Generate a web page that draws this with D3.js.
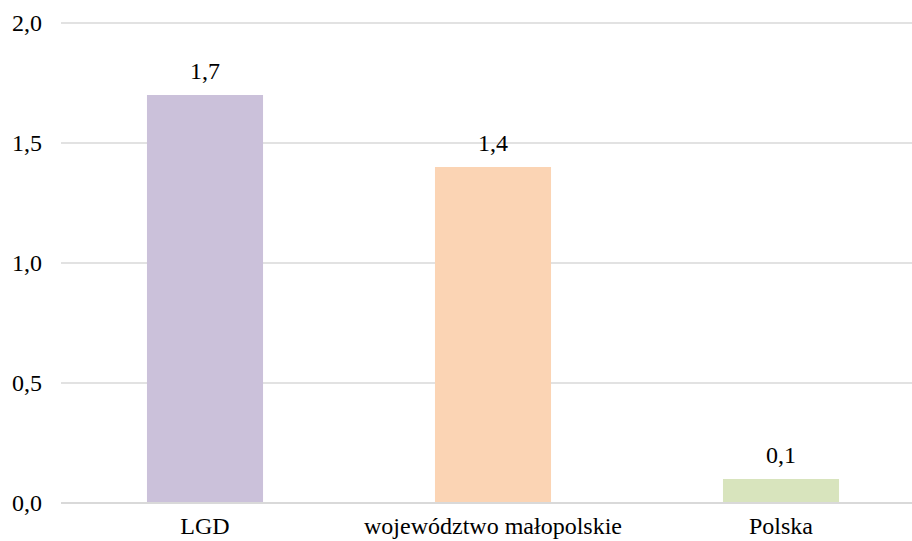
<!DOCTYPE html>
<html>
<head>
<meta charset="utf-8">
<script src="https://cdn.jsdelivr.net/npm/d3@7"></script>
<style>
  body { margin: 0; background: #fff; }
  text { font-family: "Liberation Serif", serif; font-size: 24px; fill: #000; }
</style>
</head>
<body>
<div id="chart"></div>
<script>
// Chart data
const categories = ["LGD", "województwo małopolskie", "Polska"];
const values = [1.7, 1.4, 0.1];
const barColors = ["#cbc1da", "#fbd4b4", "#d8e4bd"];
const yTicks = [0, 0.5, 1.0, 1.5, 2.0];

const width = 912, height = 541;
const plot = {left: 61, right: 925, top: 23, bottom: 503};

const fmt = v => v.toFixed(1).replace(".", ",");

const x = d3.scaleBand()
    .domain(categories)
    .range([plot.left, plot.right])
    .paddingInner(0.597)
    .paddingOuter(0.2985);

const y = d3.scaleLinear()
    .domain([0, 2])
    .range([plot.bottom, plot.top]);

const svg = d3.select("#chart")
  .append("svg")
    .attr("width", width)
    .attr("height", height);

// Gridlines
svg.append("g")
  .selectAll("line")
  .data(yTicks)
  .join("line")
    .attr("x1", plot.left)
    .attr("x2", width)
    .attr("y1", d => y(d))
    .attr("y2", d => y(d))
    .attr("stroke", "#d9d9d9")
    .attr("stroke-width", d => d === 0 ? 2 : 1.5);

// Y tick labels
svg.append("g")
  .selectAll("text")
  .data(yTicks)
  .join("text")
    .attr("x", 42)
    .attr("y", d => y(d))
    .attr("dy", "0.33em")
    .attr("text-anchor", "end")
    .text(fmt);

// Bars
svg.append("g")
  .selectAll("rect")
  .data(values)
  .join("rect")
    .attr("x", (d, i) => x(categories[i]))
    .attr("y", d => y(d))
    .attr("width", x.bandwidth())
    .attr("height", d => y(0) - y(d) - 1)
    .attr("fill", (d, i) => barColors[i]);

// Value labels
svg.append("g")
  .selectAll("text")
  .data(values)
  .join("text")
    .attr("x", (d, i) => x(categories[i]) + x.bandwidth() / 2)
    .attr("y", d => y(d) - 16)
    .attr("text-anchor", "middle")
    .text(fmt);

// Category labels (kept just inside the bottom edge)
svg.append("g")
  .selectAll("text")
  .data(categories)
  .join("text")
    .attr("x", d => x(d) + x.bandwidth() / 2)
    .attr("y", 534)
    .attr("text-anchor", "middle")
    .text(d => d);
</script>
</body>
</html>
